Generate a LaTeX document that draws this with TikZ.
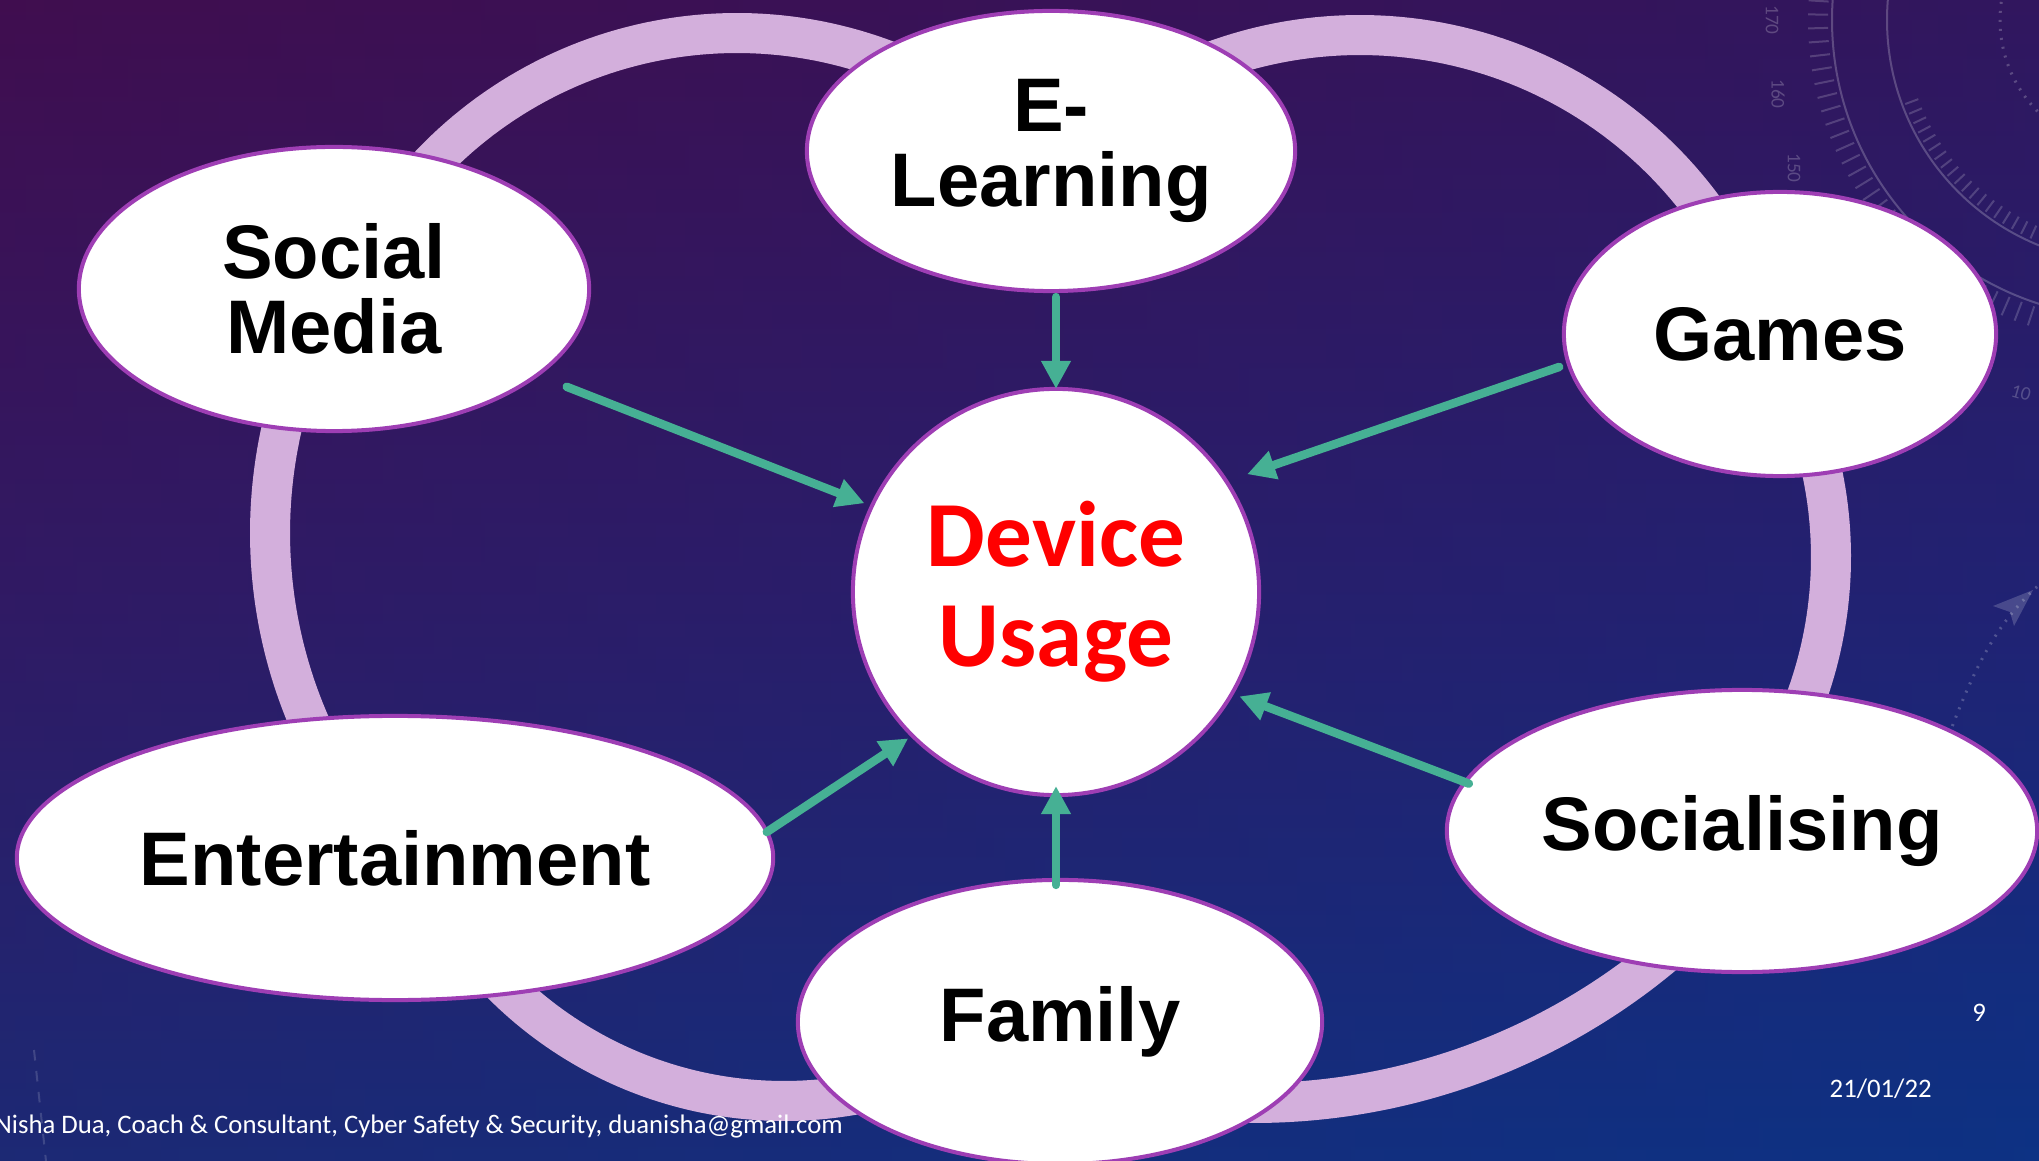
\documentclass[tikz,border=0pt]{standalone}
\usepackage{fontspec}
\setmainfont{Liberation Sans}
\newfontfamily\calibri{Carlito}
\usetikzlibrary{arrows.meta,shapes.geometric,calc}
\definecolor{bgtop}{RGB}{60,15,82}
\definecolor{bgmid}{RGB}{40,30,108}
\definecolor{bgbot}{RGB}{14,50,130}
\definecolor{magtint}{RGB}{80,10,70}
\definecolor{bluetint}{RGB}{10,50,140}
\definecolor{ringc}{RGB}{211,175,220}
\definecolor{nodeborder}{RGB}{158,62,180}
\definecolor{arrowc}{RGB}{70,176,148}
\definecolor{devred}{RGB}{255,0,0}
\begin{document}
\begin{tikzpicture}[x=0.01cm,y=-0.01cm,
  bubble/.style={ellipse, draw=nodeborder, fill=white, line width=0.04cm,
    inner sep=0pt, outer sep=0pt, align=center,
    font=\bfseries\fontsize{21.6pt}{21.3pt}\selectfont},
  ringline/.style={draw=ringc, line width=0.40cm},
  arr/.style={draw=arrowc, line width=0.085cm, line cap=round,
    -{Triangle[width=0.28cm,length=0.28cm]}},
  deco/.style={draw=white, opacity=0.22, line width=0.02cm},
  dialnum/.style={text=white, opacity=0.22, inner sep=0pt, font=\calibri\fontsize{5.5pt}{5.5pt}\selectfont},
  foot/.style={text=white, font=\calibri\fontsize{7.6pt}{9pt}\selectfont, inner sep=0pt}]
\useasboundingbox (0,0) rectangle (2039,1161);
\clip (0,0) rectangle (2039,1161);
% background
\shade[top color=bgtop, bottom color=bgbot, middle color=bgmid] (0,0) rectangle (2039,1161);
\shade[left color=magtint, right color=bluetint, opacity=0.22] (0,0) rectangle (2039,1161);
% faint dial decoration (top right)
\draw[deco] (2130,20) circle [radius=298];
\draw[deco] (2130,20) circle [radius=243];
\draw[deco, dotted, line width=0.03cm] (2130,20) circle [radius=130];
\foreach \a in {106,108.5,...,186} {
  \draw[deco, opacity=0.18] ($(2130,20)+(\a:302)$) -- ($(2130,20)+(\a:322)$);
}
\foreach \a in {112,114.5,...,160} {
  \draw[deco, opacity=0.18] ($(2130,20)+(\a:226)$) -- ($(2130,20)+(\a:240)$);
}
\node[dialnum, rotate=-90] (n170) at (1772,20) {170};
\node[dialnum, rotate=-90] (n160) at (1778,94) {160};
\node[dialnum, rotate=-90] (n150) at (1794,168) {150};
\node[dialnum, rotate=-16] (n10) at (2021,393) {10};
% faint bottom-right decoration
\draw[deco, dotted, line width=0.03cm] (1940,760) .. controls (1975,660) and (2000,620) .. (2039,585);
\fill[white, opacity=0.18] (2033,590) -- (1993,606) -- (2010,612) -- (2014,626) -- cycle;
\draw[deco, dashed, opacity=0.15] (34,1050) -- (46,1161);
% ring (six circular arcs, ends hidden under the bubbles)
\draw[ringline] plot[domain=-140:-65, samples=60] ({737+423*cos(\x)},{456+423*sin(\x)});
\draw[ringline] plot[domain=-112:-32, samples=60] ({1360+427*cos(\x)},{462+427*sin(\x)});
\draw[ringline] plot[domain=-18:25, samples=40] ({1419+412*cos(\x)},{557+412*sin(\x)});
\draw[ringline] plot[domain=46:92, samples=60] ({1254+639*cos(\x)},{464+639*sin(\x)});
\draw[ringline] plot[domain=78:138, samples=60] ({784+398*cos(\x)},{703+398*sin(\x)});
\draw[ringline] plot[domain=150:200, samples=50] ({747+477*cos(\x)},{533+477*sin(\x)});
% nodes
\node[bubble, minimum width=5.10cm, minimum height=2.84cm] (sm) at (334,289) {Social\\Media};
\node[bubble, minimum width=4.88cm, minimum height=2.80cm] (el) at (1051,151) {E-\\Learning};
\node[bubble, minimum width=4.32cm, minimum height=2.84cm] (games) at (1780,334) {Games};
\node[bubble, minimum width=7.56cm, minimum height=2.84cm] (ent) at (395,858) {Entertainment};
\node[bubble, minimum width=5.90cm, minimum height=2.82cm] (soc) at (1742,831) {Socialising};
\node[bubble, minimum width=5.24cm, minimum height=2.84cm] (fam) at (1060,1022) {Family};
\node[circle, draw=nodeborder, fill=white, line width=0.04cm, inner sep=0pt, outer sep=0pt,
  minimum size=4.06cm, align=center, text=devred,
  font=\calibri\bfseries\fontsize{26.5pt}{28.5pt}\selectfont] (dev) at (1056,592) {Device\\Usage};
% arrows
\draw[arr, shorten <=0.06cm] (el.south -| dev.north) -- (dev.north);
\draw[arr, shorten <=0.32cm, shorten >=0.08cm] (sm.337.3) -- (dev.155.25);
\draw[arr, shorten <=0.10cm, shorten >=0.22cm] (games.188.9) -- (dev.33.7);
\draw[arr, shorten <=-0.04cm, shorten >=0.08cm] (soc.170.3) -- (dev.330.4);
\draw[arr, shorten <=-0.05cm, shorten >=-0.09cm] (fam.north -| dev.south) -- (dev.south);
\draw[arr, shorten >=0.05cm] (ent.4.5) -- (dev.225);
% footer
\node[foot, anchor=base west] (author) at (-6,1133) {Nisha Dua, Coach \& Consultant, Cyber Safety \& Security, duanisha@gmail.com};
\node[foot, anchor=base] (page) at (1979,1021) {9};
\node[foot, anchor=base west] (date) at (1829,1097) {21/01/22};
\end{tikzpicture}
\end{document}
